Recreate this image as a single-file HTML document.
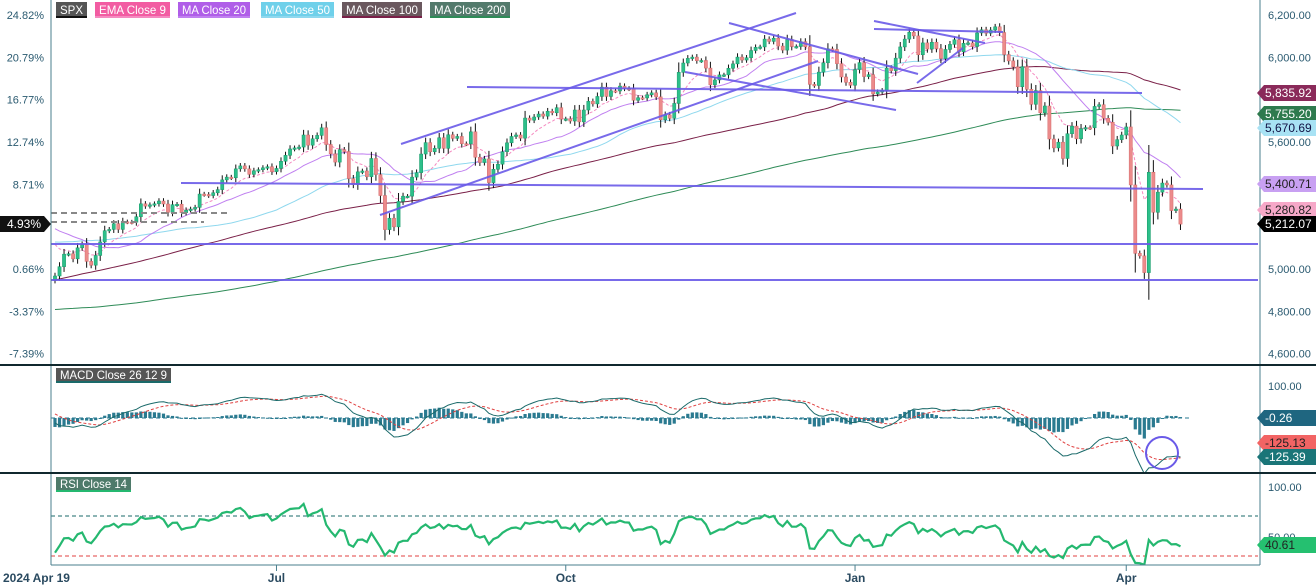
<!DOCTYPE html>
<html><head><meta charset="utf-8"><style>
html,body{margin:0;padding:0;background:#fff;}
svg{display:block;font-family:"Liberation Sans",sans-serif;}
</style></head><body>
<svg id="c" width="1316" height="585" viewBox="0 0 1316 585"></svg>
<script>
// ---- data: SPX daily closes (Apr 19 2024 -> Apr 2025) ----
const closesApr24=[4967,5011,5070,5072,5048,5100,5116,5036];
const closesMay24=[5018,5064,5128,5181,5187,5214,5187,5223,5222,5221,5247,5308,5297,5303,5308,5321,5307,5268,5304,5306,5266,5278];
const closesJun24=[5283,5291,5354,5352,5347,5360,5375,5421,5434,5431,5473,5487,5473,5447,5464,5469,5478,5483,5460];
const closesJul24=[5475,5509,5537,5567,5572,5576,5633,5585,5615,5631,5667,5588,5544,5505,5564,5555,5427,5399,5459,5463,5436,5522];
const closesAug24=[5446,5347,5186,5240,5199,5319,5344,5344,5434,5455,5543,5597,5554,5570,5620,5570,5634,5617,5626,5592,5591,5648];
const closesSep24=[5528,5503,5520,5408,5471,5495,5554,5596,5626,5633,5618,5713,5703,5718,5732,5722,5745,5738,5762,5708];
const closesOct24=[5709,5699,5751,5695,5751,5792,5780,5815,5859,5815,5842,5841,5864,5853,5851,5797,5809,5808,5823,5832,5813,5705,5728];
const closesNov24=[5712,5782,5929,5973,5995,6001,5984,5985,5949,5870,5893,5917,5917,5948,5969,6001,5987,5998,6032,6047];
const closesDec24=[6049,6086,6075,6090,6053,6034,6084,6051,6051,6074,6050,5872,5867,5930,5974,6040,6037,5970,5907,5882,5868];
const closesJan25=[5942,5975,5909,5918,5827,5836,5843,5949,5937,5996,6049,6086,6118,6101,6012,6068,6039,6071,6041,5994];
const closesFeb25=[6037,6061,6083,6026,6066,6068,6051,6115,6130,6114,6129,6144,6117,6013,5983,5955,5861,5956,5849];
const closesMar25=[5778,5843,5738,5770,5614,5572,5599,5522,5639,5675,5615,5663,5668,5667,5768,5776,5712,5693,5581,5611,5633];
const closesApr25=[5671,5397,5074,5062,4983,5457,5268,5363,5406,5397,5276,5283,5212];
// weekly closes before the visible window (warm-up for MA100/MA200/MACD), read so MA200 starts ~4810
const priorWeekly=[4700,4690,4760,4790,4830,4760,4750,4680,4700,4790,4740,4730,4640,4640,4620,4630,4640,4570,4500,4640,4700,4514,4559,4594,4604,4719,4754,4770,4697,4783,4840,4891,4959,5027,5005,5089,5096,5137,5117,5234,5254,5204,5123];
const tickLabels=["2024 Apr 19","Jul","Oct","Jan","Apr"];
const tickIndex=[0,49,113,177,237];
const pctTicks=[24.82,20.79,16.77,12.74,8.71,0.66,-3.37,-7.39];
const priceTicks=[6200,6000,5600,5000,4800,4600];

const closes=[].concat(closesApr24,closesMay24,closesJun24,closesJul24,closesAug24,closesSep24,closesOct24,closesNov24,closesDec24,closesJan25,closesFeb25,closesMar25,closesApr25);
let prior=[];priorWeekly.forEach(v=>{for(let k=0;k<5;k++)prior.push(v);});
const all=prior.concat(closes), P=prior.length, N=closes.length;

const svg=document.getElementById('c');const NS='http://www.w3.org/2000/svg';
function el(t,a,parent){const e=document.createElementNS(NS,t);for(const k in a)e.setAttribute(k,a[k]);(parent||svg).appendChild(e);return e;}
const X0=55, DX=4.52;
const xOf=i=>X0+i*DX;
const yP=v=>269-(v-5000)*0.2117;
const base=closes[0];
const yPct=p=>yP(base*(1+p/100));
const yM=v=>418-v*0.32;
const yR=v=>586-v;

function sma(arr,n){return arr.map((v,i)=>{if(i<n-1)return null;let s=0;for(let k=i-n+1;k<=i;k++)s+=arr[k];return s/n;});}
function ema(arr,n){const a=2/(n+1);let e=arr[0];return arr.map(v=>{e=a*v+(1-a)*e;return e;});}
const ema9=ema(all,9),ma20=sma(all,20),ma50=sma(all,50),ma100=sma(all,100),ma200=sma(all,200);
const e12=ema(all,12),e26=ema(all,26);const macd=all.map((v,i)=>e12[i]-e26[i]);const sig=ema(macd,9);
// RSI 14 (Wilder) on visible closes, seeded
let ag=10,al=20;const rsi=[];rsi[P]=100-100/(1+ag/al);
for(let i=P+1;i<all.length;i++){const d=all[i]-all[i-1];const g=Math.max(d,0),l=Math.max(-d,0);ag=(ag*13+g)/14;al=(al*13+l)/14;rsi[i]=al===0?100:100-100/(1+ag/al);}

const defs=el('defs',{});
const cp1=el('clipPath',{id:'cMain'},defs);el('rect',{x:51,y:0,width:1209,height:365},cp1);
const cp2=el('clipPath',{id:'cMacd'},defs);el('rect',{x:51,y:366,width:1209,height:106},cp2);
const cp3=el('clipPath',{id:'cRsi'},defs);el('rect',{x:51,y:474,width:1209,height:91},cp3);
const gMain=el('g',{'clip-path':'url(#cMain)'});
const gMacd=el('g',{'clip-path':'url(#cMacd)'});
const gRsi=el('g',{'clip-path':'url(#cRsi)'});

function line(arr,yf,g,attrs,name){let d='';for(let i=0;i<N;i++){const v=arr[P+i];if(v==null)continue;d+=(d?'L':'M')+xOf(i).toFixed(1)+','+yf(v).toFixed(1);}const p=el('path',Object.assign({d:d,fill:'none'},attrs),g);return p;}

line(ma200,yP,gMain,{stroke:'#2e8b57','stroke-width':1},'ma200-line');
line(ma100,yP,gMain,{stroke:'#7a2048','stroke-width':1},'ma100-line');
line(ma50,yP,gMain,{stroke:'#8fd8ee','stroke-width':1},'ma50-line');
line(ma20,yP,gMain,{stroke:'#c080f0','stroke-width':1},'ma20-line');
line(ema9,yP,gMain,{stroke:'#f58ac0','stroke-width':1,'stroke-dasharray':'3,2'},'ema9-line');

for(let i=0;i<N;i++){const o=i===0?closes[0]-20:closes[i-1],c=closes[i];const up=c>=o;const x=xOf(i);
 const hi=Math.max(o,c)+Math.abs(c-o)*0.25+10,lo=Math.min(o,c)-Math.abs(c-o)*0.25-10;
 const w=el('line',{x1:x,x2:x,y1:yP(hi),y2:yP(lo),stroke:'#111','stroke-width':1},gMain);
 
 const top=yP(Math.max(o,c)),h=Math.max(1.5,yP(Math.min(o,c))-top);
 const b=el('rect',{x:x-1.6,y:top,width:3.2,height:h,fill:up?'#2dbf8a':'#ec8b8b',stroke:up?'#1a9a6a':'#d46a6a','stroke-width':0.5},gMain);
 }

const B='#6a5ae8';
const drawn=[[181,183,1203,189],[467,87,1142,93],[51,244,1258,244],[51,280,1258,280],[401,144,796,13],[380,215,818,61],[729,23,918,74],[685,72,896,110],[874,21,985,43],[874,29,1003,32],[917,83,963,48]];
drawn.forEach(l=>{const e=el('line',{x1:l[0],y1:l[1],x2:l[2],y2:l[3],stroke:B,'stroke-width':2,opacity:0.9},gMain);});
[[213,227],[222,204]].forEach(d=>{const e=el('line',{x1:51,x2:d[1],y1:d[0],y2:d[0],stroke:'#888','stroke-width':2,'stroke-dasharray':'6,4'},gMain);});

for(let i=0;i<N;i++){const h=macd[P+i]-sig[P+i];const y0=yM(0),y1=yM(h);const r=el('rect',{x:xOf(i)-1.6,y:Math.min(y0,y1),width:3.2,height:Math.max(1,Math.abs(y1-y0)),fill:'#2a7a90'},gMacd);}
el('line',{x1:51,x2:1190,y1:yM(0),y2:yM(0),stroke:'#2a7a90','stroke-dasharray':'4,3','stroke-width':1},gMacd);
line(sig,yM,gMacd,{stroke:'#e04040','stroke-width':1,'stroke-dasharray':'3,2'},'macd-signal-line');
line(macd,yM,gMacd,{stroke:'#1a6a6a','stroke-width':1},'macd-line');
const circ=el('circle',{cx:1162,cy:453,r:16,fill:'none',stroke:'#6a5ae8','stroke-width':2});

el('line',{x1:51,x2:1258,y1:yR(70),y2:yR(70),stroke:'#1a6a6a','stroke-dasharray':'4,3','stroke-width':1},gRsi);
el('line',{x1:51,x2:1258,y1:yR(30),y2:yR(30),stroke:'#e04040','stroke-dasharray':'4,3','stroke-width':1},gRsi);
line(rsi,yR,gRsi,{stroke:'#25b870','stroke-width':2.2},'rsi-line');

const frame=[[51,0,51,565],[1260,0,1260,565],[51,565,1260,565]];
frame.forEach(f=>el('line',{x1:f[0],y1:f[1],x2:f[2],y2:f[3],stroke:'#4a7f8e','stroke-width':1}));
el('line',{x1:0,x2:1316,y1:365,y2:365,stroke:'#10282e','stroke-width':2});
el('line',{x1:0,x2:1316,y1:473,y2:473,stroke:'#10282e','stroke-width':2});

function txt(x,y,s,attrs,name){const t=el('text',Object.assign({x:x,y:y,'font-size':11,fill:'#2a5a70'},attrs));t.textContent=s;return t;}
pctTicks.forEach(p=>txt(44,yPct(p)+4,p.toFixed(2)+'%',{'text-anchor':'end'},'left-axis-label'));
priceTicks.forEach(v=>txt(1268,yP(v)+4,v.toLocaleString('en-US',{minimumFractionDigits:2}),{},'right-axis-label'));
txt(1268,390,'100.00',{},'macd-axis-label');
txt(1268,491,'100.00',{},'rsi-axis-label');
txt(1268,541,'50.00',{},'rsi-axis-label');
tickLabels.forEach((s,k)=>{const x=xOf(tickIndex[k]);if(k>0){el('line',{x1:x,x2:x,y1:565,y2:571,stroke:'#4a7f8e'});}txt(k===0?3:x,582,s,{'text-anchor':k===0?'start':'middle','font-weight':'bold','font-size':12,fill:'#2a4a60'},'x-axis-label');});

function tag(x,y,w,s,bg,fg,name,left){const g=el('g',{});
 if(left){el('path',{d:`M0,${y-8}H${x+w}L${x+w+7},${y}L${x+w},${y+8}H0Z`,fill:bg},g);}
 else el('path',{d:`M${x},${y}L${x+7},${y-8}H1316V${y+8}H${x+7}Z`,fill:bg},g);
 const t=el('text',{x:left?x+w-3:x+8,y:y+4,'font-size':12,fill:fg,'text-anchor':left?'end':'start'},g);t.textContent=s;}
tag(0,224,44,'4.93%','#111','#fff','current-pct-tag',true);
tag(1257,93,0,'5,835.92','#8a2a5a','#fff','ma100-value-tag');
tag(1257,114,0,'5,755.20','#2e7a4e','#fff','ma200-value-tag');
tag(1257,128,0,'5,670.69','#a8e2f4','#114','ma50-value-tag');
tag(1257,184,0,'5,400.71','#c8a0f2','#222','ma20-value-tag');
tag(1257,210,0,'5,280.82','#f6a8c8','#222','ema9-value-tag');
tag(1257,224,0,'5,212.07','#000','#fff','last-price-tag');
tag(1257,418,0,'-0.26','#1f6680','#fff','macd-hist-tag');
tag(1257,443,0,'-125.13','#f26464','#222','macd-signal-tag');
tag(1257,457,0,'-125.39','#1a7578','#fff','macd-value-tag');
tag(1257,545,0,'40.61','#25c070','#222','rsi-value-tag');

const legend=[['SPX',56,31,'#555','#111'],['EMA Close 9',95,75,'#f25ca2','#f58ac0'],['MA Close 20',178,72,'#b05ee8','#c080f0'],['MA Close 50',261,73,'#6fd0ea','#8fd8ee'],['MA Close 100',342,80,'#6a585e','#7a2048'],['MA Close 200',430,80,'#537a6c','#2e8b57']];
legend.forEach(l=>{const g=el('g',{});
 el('rect',{x:l[1],y:2,width:l[2],height:15,fill:l[3]},g);el('rect',{x:l[1],y:16,width:l[2],height:2,fill:l[4]},g);
 const t=el('text',{x:l[1]+4,y:14,'font-size':12,fill:'#fff',textLength:l[2]-8,lengthAdjust:'spacingAndGlyphs'},g);t.textContent=l[0];});
[['MACD Close 26 12 9',56,368,115,'#555','#1a6a6a','macd-legend'],['RSI Close 14',56,477,75,'#4e7a6a','#25b870','rsi-legend']].forEach(l=>{const g=el('g',{});
 el('rect',{x:l[1],y:l[2],width:l[3],height:14,fill:l[4]},g);el('rect',{x:l[1],y:l[2]+13,width:l[3],height:2,fill:l[5]},g);
 const t=el('text',{x:l[1]+4,y:l[2]+11,'font-size':12,fill:'#fff',textLength:l[3]-8,lengthAdjust:'spacingAndGlyphs'},g);t.textContent=l[0];});
</script>
</body></html>
